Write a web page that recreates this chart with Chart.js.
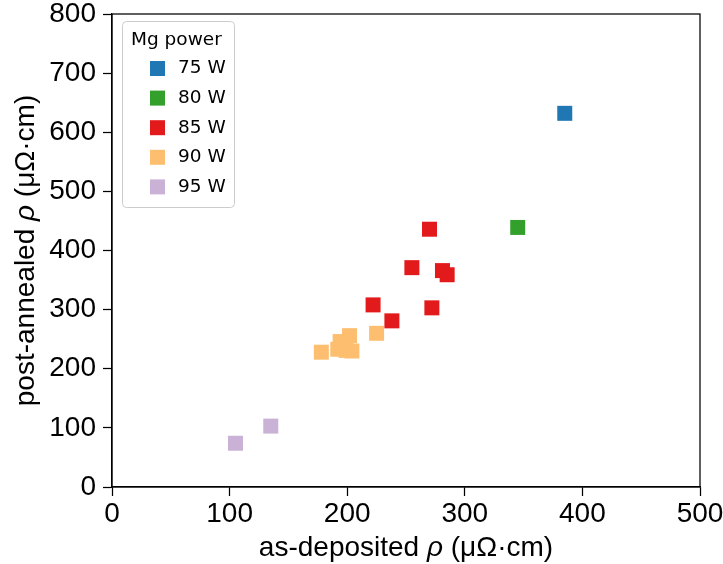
<!DOCTYPE html>
<html>
<head>
<meta charset="utf-8">
<script src="https://cdn.jsdelivr.net/npm/chart.js@4.4.0/dist/chart.umd.min.js"></script>
<style>
  html, body { margin: 0; padding: 0; background: #fff; }
  #wrap { width: 723px; height: 564px; }
</style>
</head>
<body>
<div id="wrap"><canvas id="chart"></canvas></div>
<script>
// Mg sputter power groups
const powerLabels = ["75 W", "80 W", "85 W", "90 W", "95 W"];
const powerColors = ["#1f78b4", "#33a02c", "#e31a1c", "#fdbf6f", "#cab2d6"];

// as-deposited resistivity (uOhm cm), one array per power
const asDep75 = [385];
const asDep80 = [345];
const asDep85 = [270, 255, 281, 285, 222, 272, 238];
const asDep90 = [178, 192, 194, 202, 204, 199, 225];
const asDep95 = [105, 135];

// post-annealed resistivity (uOhm cm)
const post75 = [632];
const post80 = [439];
const post85 = [436, 371, 366, 359, 308, 303, 281];
const post90 = [228, 233, 246, 256, 230, 231, 260];
const post95 = [74, 103];

const xTicks = [0, 100, 200, 300, 400, 500];
const yTicks = [0, 100, 200, 300, 400, 500, 600, 700, 800];

const xs = [asDep75, asDep80, asDep85, asDep90, asDep95];
const ys = [post75, post80, post85, post90, post95];

const tickFont = { family: "'Liberation Sans', Arial, sans-serif", size: 28 };
const titleFamily = "'Liberation Sans', Arial, sans-serif";

const datasets = powerLabels.map((lab, i) => ({
    label: lab,
    data: xs[i].map((x, j) => ({ x: x, y: ys[i][j] })),
    backgroundColor: powerColors[i],
    borderWidth: 0,
    pointStyle: "rect",
    pointRadius: 10.6,
}));

// draw a title with an italic rho in the middle
function drawMixed(ctx, parts, x, y) {
    let total = 0;
    parts.forEach(p => {
        ctx.font = (p.it ? "italic " : "") + "28px " + titleFamily;
        p.w = ctx.measureText(p.t).width;
        total += p.w;
    });
    let cx = x - total / 2;
    parts.forEach(p => {
        ctx.font = (p.it ? "italic " : "") + "28px " + titleFamily;
        ctx.fillText(p.t, cx, y);
        cx += p.w;
    });
}

const decor = {
    id: "decor",
    afterDraw(chart) {
        const ctx = chart.ctx;
        const a = chart.chartArea;
        ctx.save();
        // frame
        ctx.strokeStyle = "#000";
        ctx.lineWidth = 1.25;
        ctx.strokeRect(a.left, a.top, a.right - a.left, a.bottom - a.top);

        // axis titles
        ctx.fillStyle = "#000";
        ctx.textAlign = "left";
        ctx.textBaseline = "alphabetic";
        drawMixed(ctx, [{ t: "as-deposited " }, { t: "ρ", it: true }, { t: " (μΩ·cm)" }],
            (a.left + a.right) / 2, 556);
        ctx.save();
        ctx.translate(34, (a.top + a.bottom) / 2);
        ctx.rotate(-Math.PI / 2);
        drawMixed(ctx, [{ t: "post-annealed " }, { t: "ρ", it: true }, { t: " (μΩ·cm)" }], 0, 0);
        ctx.restore();

        // legend
        const lx = 122.5, ly = 21.5, lw = 112, lh = 186;
        ctx.beginPath();
        ctx.roundRect(lx, ly, lw, lh, 4);
        ctx.fillStyle = "rgba(255,255,255,0.8)";
        ctx.fill();
        ctx.strokeStyle = "#cccccc";
        ctx.lineWidth = 1;
        ctx.stroke();
        ctx.fillStyle = "#000";
        ctx.textBaseline = "middle";
        ctx.font = "18.5px 'DejaVu Sans', sans-serif";
        ctx.fillText("Mg power", 131, 40);
        chart.data.datasets.forEach((ds, i) => {
            const cy = 68.5 + i * 29.6;
            ctx.fillStyle = ds.backgroundColor;
            ctx.fillRect(150, cy - 7.5, 15, 15);
            ctx.fillStyle = "#000";
            ctx.fillText(ds.label, 178, cy);
        });
        ctx.restore();
    }
};

new Chart(document.getElementById("chart"), {
    type: "scatter",
    data: { datasets: datasets },
    plugins: [decor],
    options: {
        responsive: true,
        maintainAspectRatio: false,
        animation: false,
        events: [],
        layout: { padding: { left: 0, right: 23, top: 14, bottom: 0 } },
        plugins: { legend: { display: false }, tooltip: { enabled: false } },
        scales: {
            x: {
                type: "linear",
                min: 0,
                max: 500,
                afterBuildTicks: s => { s.ticks = xTicks.map(v => ({ value: v })); },
                ticks: { font: tickFont, color: "#000", padding: 1, maxRotation: 0 },
                grid: { drawOnChartArea: false, tickLength: 9, tickWidth: 1.25, tickColor: "#000" },
                border: { display: true, color: "#000", width: 1.25 },
                afterFit: s => { s.height = 77; s.paddingLeft = 0; s.paddingRight = 0; },
            },
            y: {
                type: "linear",
                min: 0,
                max: 800,
                afterBuildTicks: s => { s.ticks = yTicks.map(v => ({ value: v })); },
                ticks: { font: tickFont, color: "#000", padding: 7 },
                grid: { drawOnChartArea: false, tickLength: 9, tickWidth: 1.25, tickColor: "#000" },
                border: { display: true, color: "#000", width: 1.25 },
                afterFit: s => { s.width = 112; s.paddingTop = 0; s.paddingBottom = 0; },
            },
        },
    },
});
</script>
</body>
</html>
